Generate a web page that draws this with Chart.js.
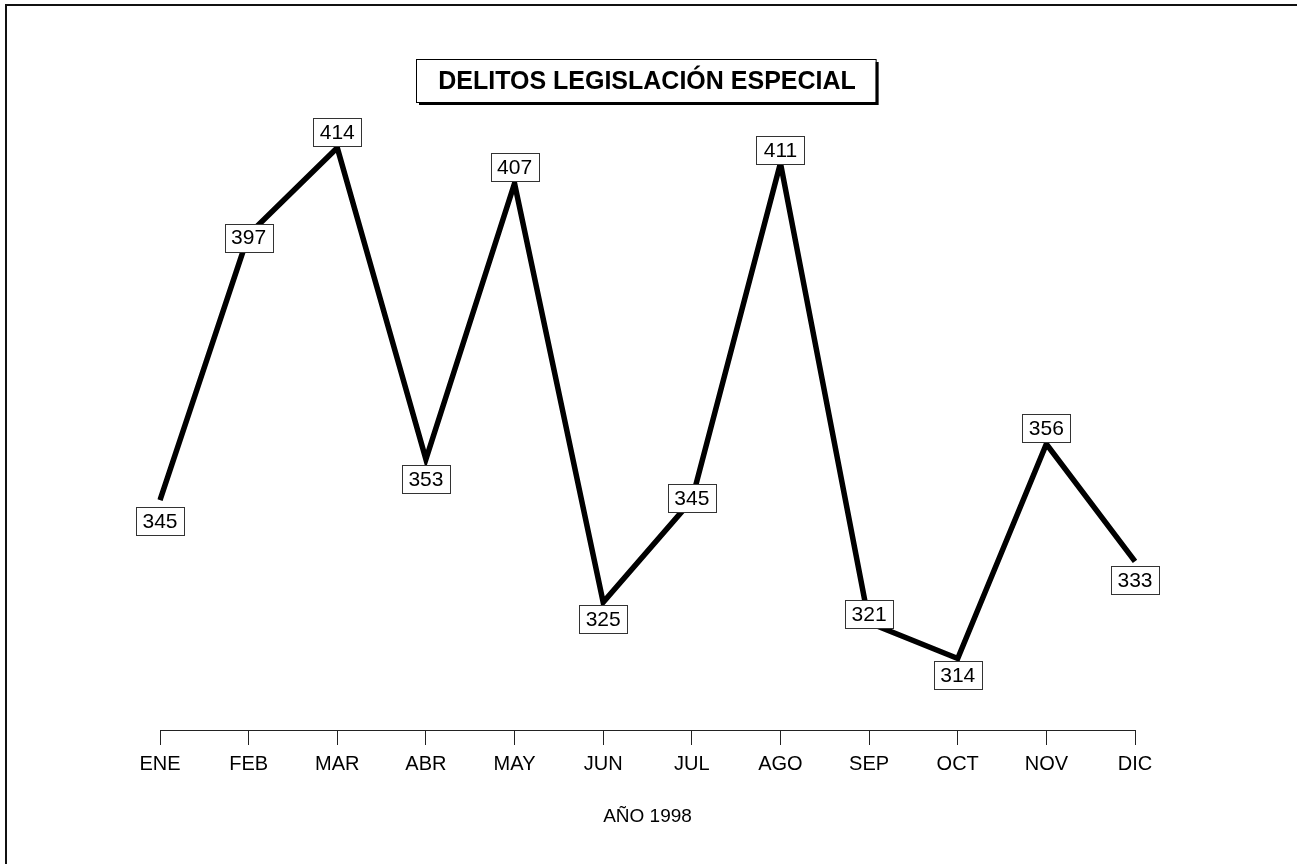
<!DOCTYPE html>
<html lang="es">
<head>
    <meta charset="UTF-8">
    <title>Delitos Legislación Especial</title>
    <script src="https://cdn.jsdelivr.net/npm/chart.js"></script>
    <style>
        body { margin: 0; background: #fff; }
        canvas { display: block; }
    </style>
</head>
<body>
    <canvas id="delitosChart" width="1297" height="864"></canvas>

    <script>
        // Chart data
        const chartTitle = 'DELITOS LEGISLACIÓN ESPECIAL';
        const axisTitle = 'AÑO 1998';
        const months = ['ENE', 'FEB', 'MAR', 'ABR', 'MAY', 'JUN', 'JUL', 'AGO', 'SEP', 'OCT', 'NOV', 'DIC'];
        const delitos = [345, 397, 414, 353, 407, 325, 345, 411, 321, 314, 356, 333];

        // vertical shift of each value box from its point (px)
        const labelShift = [21, 3, -16, 20, -16, 17, -2, -13, -9, 17, -16, 19];

        const FONT = '"Liberation Sans", Arial, Helvetica, sans-serif';

        // page frame + title box
        const framePlugin = {
            id: 'frame',
            beforeDraw(chart) {
                const c = chart.ctx;
                c.save();
                c.fillStyle = '#fff';
                c.fillRect(0, 0, chart.width, chart.height);
                c.strokeStyle = '#111';
                c.lineWidth = 2;
                c.beginPath();
                c.moveTo(6, chart.height);
                c.lineTo(6, 5);
                c.lineTo(chart.width, 5);
                c.stroke();

                // title
                c.font = 'bold 25px ' + FONT;
                const w = c.measureText(chartTitle).width + 42;
                const h = 43;
                const cx = 646, top = 59;
                const left = Math.round(cx - w / 2);
                c.fillStyle = '#000';
                c.fillRect(left + 3, top + 3, w, h);
                c.fillStyle = '#fff';
                c.fillRect(left, top, w, h);
                c.strokeStyle = '#000';
                c.lineWidth = 1;
                c.strokeRect(left + 0.5, top + 0.5, w, h);
                c.fillStyle = '#000';
                c.textAlign = 'center';
                c.textBaseline = 'middle';
                c.fillText(chartTitle, cx + 1, top + h / 2 + 2);
                c.restore();
            }
        };

        // boxed value labels
        const valueBoxes = {
            id: 'valueBoxes',
            afterDatasetsDraw(chart) {
                const c = chart.ctx;
                const meta = chart.getDatasetMeta(0);
                c.save();
                c.font = '21px ' + FONT;
                c.textAlign = 'center';
                c.textBaseline = 'middle';
                meta.data.forEach((pt, i) => {
                    const txt = String(delitos[i]);
                    const bw = 48, bh = 28;
                    const x = pt.x, y = pt.y + labelShift[i];
                    const bx = Math.round(x - bw / 2) + 0.5;
                    const by = Math.round(y - bh / 2) + 0.5;
                    c.fillStyle = '#fff';
                    c.fillRect(bx, by, bw, bh);
                    c.strokeStyle = '#333';
                    c.lineWidth = 1;
                    c.strokeRect(bx, by, bw, bh);
                    c.fillStyle = '#000';
                    c.fillText(txt, x, y + 1);
                });
                c.restore();
            }
        };

        const ctx = document.getElementById('delitosChart').getContext('2d');
        const delitosChart = new Chart(ctx, {
            type: 'line',
            data: {
                labels: months,
                datasets: [{
                    data: delitos,
                    borderColor: '#000',
                    borderWidth: 5.5,
                    borderJoinStyle: 'miter',
                    pointRadius: 0,
                    tension: 0,
                    fill: false
                }]
            },
            options: {
                responsive: false,
                animation: false,
                layout: {
                    padding: { left: 160, right: 162, top: 66, bottom: 0 }
                },
                plugins: {
                    legend: { display: false },
                    title: { display: false },
                    tooltip: { enabled: false }
                },
                scales: {
                    x: {
                        offset: false,
                        afterFit(scale) { scale.height = 134; },
                        border: { display: true, color: '#222', width: 1 },
                        grid: {
                            drawOnChartArea: false,
                            drawTicks: true,
                            tickLength: 15,
                            color: '#222',
                            lineWidth: 1
                        },
                        ticks: {
                            color: '#000',
                            padding: 7,
                            maxRotation: 0,
                            autoSkip: false,
                            font: { family: FONT, size: 20 }
                        },
                        title: {
                            display: true,
                            text: axisTitle,
                            color: '#000',
                            font: { family: FONT, size: 19 },
                            padding: { top: 0, bottom: 36 }
                        }
                    },
                    y: {
                        display: false,
                        min: 300,
                        max: 430
                    }
                }
            },
            plugins: [framePlugin, valueBoxes]
        });
    </script>
</body>
</html>
